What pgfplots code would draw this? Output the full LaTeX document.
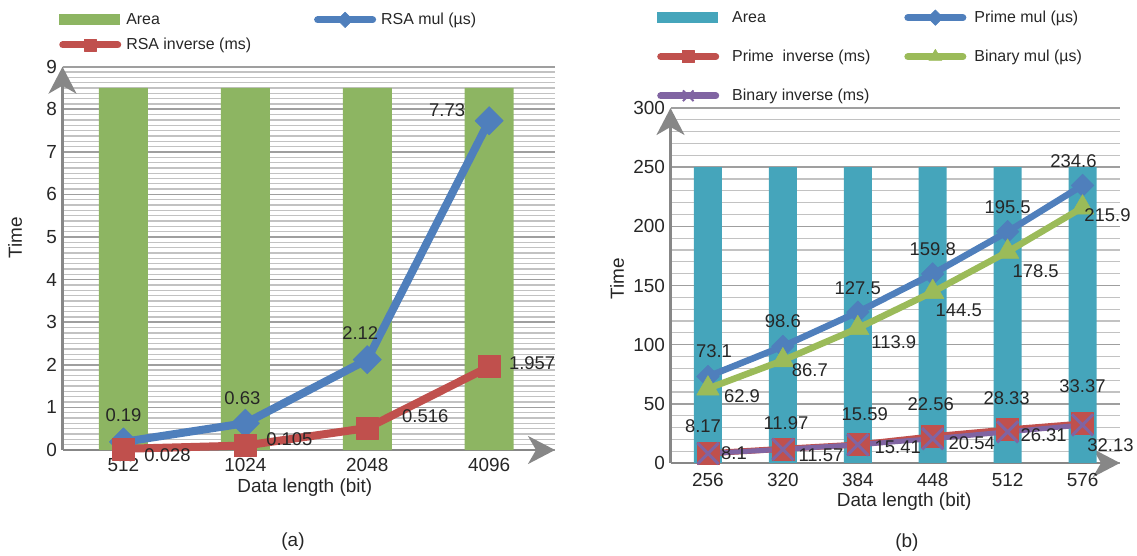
\documentclass[border=0pt]{standalone}
\usepackage{fontspec}
\setmainfont{Liberation Sans}
\usepackage{pgfplots}
\usepackage{pgfplotstable}
\pgfplotsset{compat=1.18}
\usetikzlibrary{arrows.meta}
\definecolor{barA}{HTML}{8DB562}
\definecolor{barB}{HTML}{45A5BB}
\definecolor{cblue}{HTML}{4F7FBC}
\definecolor{cred}{HTML}{C0504D}
\definecolor{cgreen}{HTML}{9BBB59}
\definecolor{cpurple}{HTML}{8064A2}
\definecolor{axgray}{HTML}{878787}

\pgfplotstableread{
x y dx dy lab
0 0.19 0 27 0.19
1 0.63 -3 25 0.63
2 2.12 -7 27 2.12
3 7.73 -42 11 7.73
}\rsamul
\pgfplotstableread{
x y dx dy lab
0 0.028 44 -6 0.028
1 0.105 44 6.5 0.105
2 0.516 58 12 0.516
3 1.957 43 3.5 1.957
}\rsainv
\pgfplotstableread{
x y dx dy lab
0 73.1 6 25 73.1
1 98.6 0 25 98.6
2 127.5 0 24 127.5
3 159.8 0 25 159.8
4 195.5 0 25 195.5
5 234.6 -9 24 234.6
}\primemul
\pgfplotstableread{
x y dx dy lab
0 62.9 34 -8 62.9
1 86.7 27 -10 86.7
2 113.9 36 -13.5 113.9
3 144.5 26 -18 144.5
4 178.5 28 -19 178.5
5 215.9 25 -8 215.9
}\binmul
\pgfplotstableread{
x y dx dy lab
0 8.17 -5 27 8.17
1 11.97 3 26 11.97
2 15.59 7 30 15.59
3 22.56 -2 32 22.56
4 28.33 -1 31 28.33
5 33.37 0 37 33.37
}\primeinv
\pgfplotstableread{
x y dx dy lab
0 8.1 26 0 8.1
1 11.57 38 -6 11.57
2 15.41 40 -2 15.41
3 20.54 39 -4 20.54
4 26.31 36 -3 26.31
5 32.13 28 -20 32.13
}\bininv

\pgfplotsset{
  mystyle/.style={
    scale only axis,
    clip=false,
    axis lines=left,
    axis line style={draw=axgray, line width=2.5bp, -{Stealth[length=27bp,width=28bp,inset=8bp]}},
    tick style={draw=none},
    ymajorgrids, yminorgrids,
    major grid style={draw=gray!75, line width=1.6bp},
    minor grid style={draw=gray!48, line width=1.3bp},
    ticklabel style={font=\fontsize{19}{22}\selectfont, text=black!85},
    /pgf/number format/assume math mode=true,
    label style={font=\fontsize{19}{22}\selectfont, text=black!85},
    legend cell align=left,
    legend style={draw=none, fill=none, inner sep=0pt,
      font=\fontsize{16}{19}\selectfont, text=black!85,
      nodes={inner sep=2bp}},
  },
  barleg/.style={legend image code/.code={
      \path[draw=none, fill=none] (0bp,-6bp) rectangle (62bp,6bp);
      \fill[draw=none, fill=#1] (0bp,-5.5bp) rectangle (61bp,5.5bp);}},
  % #1 colour, #2 mark, #3 mark size, #4 extra mark options
  lineleg/.style n args={4}{legend image code/.code={
      \path[draw=none, fill=none] (0bp,-6bp) rectangle (62bp,6bp);
      \draw[draw=#1, fill=none, line width=7bp, line cap=round] (3.5bp,0bp) -- (58.5bp,0bp);
      \path[draw=none, fill=none] plot[mark=#2, mark size=#3, mark options={draw=#1, fill=#1, line width=0.5bp, #4}]
        coordinates {(31bp,0bp)};}},
  labs/.style={
    nodes near coords, point meta=explicit symbolic,
    visualization depends on={\thisrow{dx}\as\dx},
    visualization depends on={\thisrow{dy}\as\dy},
    every node near coord/.append style={font=\fontsize{18.5}{21}\selectfont,
      text=black!85, anchor=center, xshift=\dx bp, yshift=\dy bp},
  },
}

\begin{document}
\begin{tikzpicture}
\useasboundingbox (0,0) rectangle (1137bp,556bp);

% ---------- (a) ----------
\begin{axis}[mystyle,
  at={(62.5bp,106bp)}, anchor=south west,
  width=492.5bp, height=383.3bp,
  xmin=-0.5, xmax=3.54, ymin=0, ymax=9,
  ytick={0,1,...,9}, minor y tick num=7,
  xtick={0,1,2,3}, xticklabels={512,1024,2048,4096},
  xticklabel style={yshift=-3bp},
  xlabel={Data length (bit)}, ylabel={Time},
  xlabel style={at={(axis description cs:0.492,-0.099)}, anchor=center},
  ylabel style={at={(axis description cs:-0.0964,0.553)}, anchor=center},
  legend columns=2,
  legend style={at={(axis description cs:-0.007,1.145)}, anchor=north west,
    row sep=8bp,
    /tikz/column 1/.style={column sep=3bp},
    /tikz/column 2/.style={column sep=61bp},
    /tikz/column 3/.style={column sep=3bp}},
  extra description/.code={\node[font=\fontsize{19}{22}\selectfont, text=black!85] at (axis description cs:0.468,-0.24) {(a)};},
]
\addplot[barleg=barA, ybar, bar shift=0pt, bar width=49bp, fill=barA, draw=none]
  coordinates {(0,8.5) (1,8.5) (2,8.5) (3,8.5)};
\addlegendentry{Area}
\addplot[lineleg={cblue}{square*}{5.5bp}{rotate=45}, labs, cblue, line width=8bp, line join=round, mark=square*, mark size=10bp,
  mark options={rotate=45, fill=cblue, draw=cblue, line width=0.5bp}]
  table[x=x, y=y, meta=lab] {\rsamul};
\addlegendentry{RSA mul (µs)}
\addplot[lineleg={cred}{square*}{6bp}{}, labs, cred, line width=8bp, line join=round, mark=square*, mark size=11bp,
  mark options={fill=cred, draw=cred, line width=0.5bp}]
  table[x=x, y=y, meta=lab] {\rsainv};
\addlegendentry{RSA inverse (ms)}
\end{axis}

% ---------- (b) ----------
\begin{axis}[mystyle,
  at={(670.5bp,93bp)}, anchor=south west,
  width=449.5bp, height=355bp,
  xmin=-0.5, xmax=5.5, ymin=0, ymax=300,
  ytick={0,50,...,300}, minor y tick num=4,
  xtick={0,...,5}, xticklabels={256,320,384,448,512,576},
  xticklabel style={yshift=-5bp},
  xlabel={Data length (bit)}, ylabel={Time},
  xlabel style={at={(axis description cs:0.52,-0.110)}, anchor=center},
  ylabel style={at={(axis description cs:-0.119,0.52)}, anchor=center},
  legend columns=2,
  legend style={at={(axis description cs:-0.030,1.279)}, anchor=north west,
    row sep=22bp,
    /tikz/column 1/.style={column sep=11bp},
    /tikz/column 2/.style={column sep=32bp},
    /tikz/column 3/.style={column sep=6bp}},
  extra description/.code={\node[font=\fontsize{19}{22}\selectfont, text=black!85] at (axis description cs:0.526,-0.225) {(b)};},
]
\addplot[barleg=barB, ybar, bar shift=0pt, bar width=28bp, fill=barB, draw=none]
  coordinates {(0,250) (1,250) (2,250) (3,250) (4,250) (5,250)};
\addlegendentry{Area}
\addplot[lineleg={cblue}{square*}{5.5bp}{rotate=45}, labs, cblue, line width=6.5bp, line join=round, mark=square*, mark size=8bp,
  mark options={rotate=45, fill=cblue, draw=cblue, line width=0.5bp}]
  table[x=x, y=y, meta=lab] {\primemul};
\addlegendentry{Prime mul (µs)}
\addplot[lineleg={cred}{square*}{6bp}{}, labs, cred, line width=6bp, line join=round, mark=square*, mark size=11bp,
  mark options={fill=cred, draw=cred, line width=0.5bp}]
  table[x=x, y=y, meta=lab] {\primeinv};
\addlegendentry{Prime\ \ inverse (ms)}
\addplot[lineleg={cgreen}{triangle*}{7.5bp}{}, labs, cgreen, line width=6.5bp, line join=round, mark=triangle*, mark size=13bp,
  mark options={fill=cgreen, draw=cgreen, line width=0.5bp}]
  table[x=x, y=y, meta=lab] {\binmul};
\addlegendentry{Binary mul (µs)}
\addplot[lineleg={cpurple}{x}{7.5bp}{line width=2bp}, labs, cpurple, line width=5bp, line join=round, mark=x, mark size=15bp,
  mark options={draw=cpurple, line width=3bp}]
  table[x=x, y=y, meta=lab] {\bininv};
\addlegendentry{Binary inverse (ms)}
\end{axis}
\end{tikzpicture}
\end{document}
